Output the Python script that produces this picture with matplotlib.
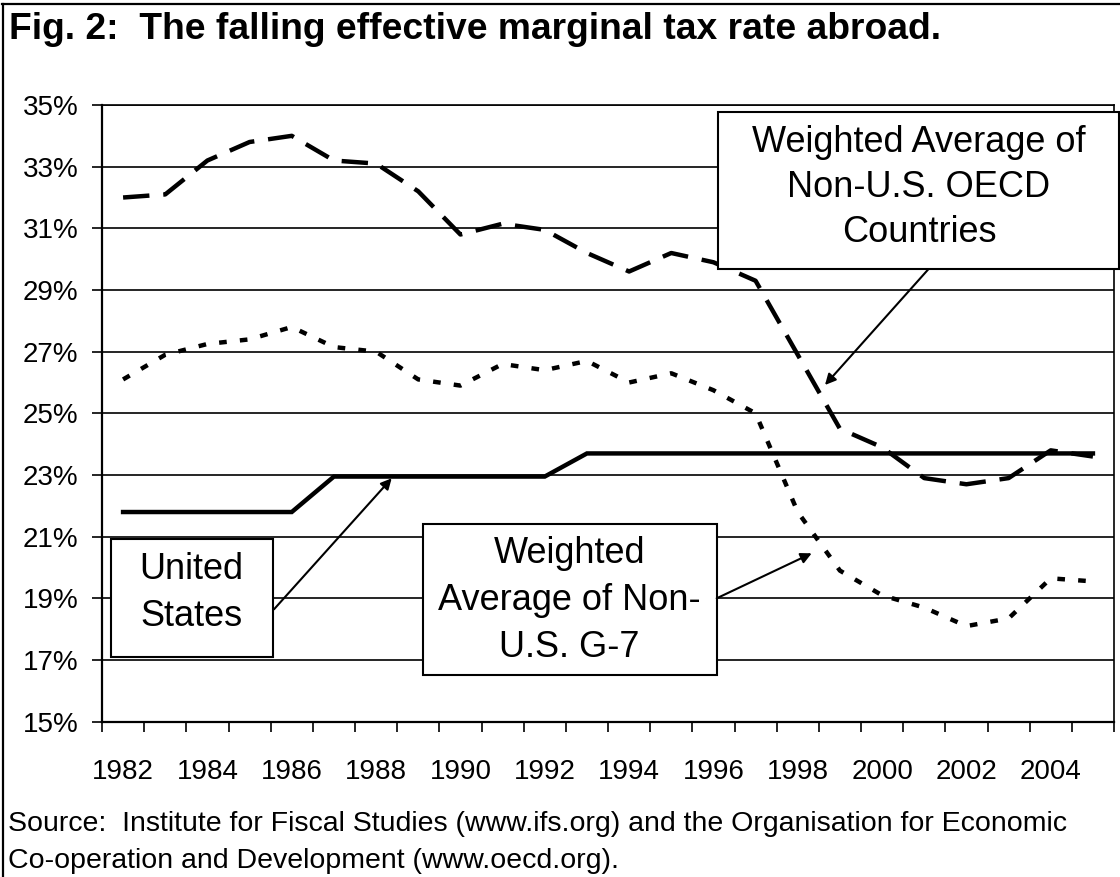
import matplotlib
matplotlib.use("Agg")
import matplotlib.pyplot as plt
from matplotlib.lines import Line2D
from matplotlib.patches import Rectangle, FancyArrowPatch

plt.rcParams['font.family'] = ['Liberation Sans', 'DejaVu Sans']
plt.rcParams['lines.scale_dashes'] = False

# ---- data ----
years = [1982, 1983, 1984, 1985, 1986, 1987, 1988, 1989, 1990, 1991, 1992, 1993,
         1994, 1995, 1996, 1997, 1998, 1999, 2000, 2001, 2002, 2003, 2004, 2005]
oecd = [32.0, 32.1, 33.2, 33.8, 34.0, 33.2, 33.1, 32.2, 30.8, 31.15, 30.95, 30.2,
        29.6, 30.2, 29.9, 29.3, 26.9, 24.5, 23.9, 22.9, 22.7, 22.9, 23.8, 23.6]
g7 = [26.1, 26.9, 27.25, 27.4, 27.8, 27.15, 27.0, 26.1, 25.9, 26.6, 26.4, 26.7,
      26.0, 26.3, 25.75, 25.0, 21.8, 19.9, 19.1, 18.7, 18.1, 18.35, 19.65, 19.55]
us = [21.8, 21.8, 21.8, 21.8, 21.8, 22.95, 22.95, 22.95, 22.95, 22.95, 22.95, 23.7,
      23.7, 23.7, 23.7, 23.7, 23.7, 23.7, 23.7, 23.7, 23.7, 23.7, 23.7, 23.7]
xtick_labels = ['1982', '1984', '1986', '1988', '1990', '1992', '1994', '1996',
                '1998', '2000', '2002', '2004']
yticks = [15, 17, 19, 21, 23, 25, 27, 29, 31, 33, 35]

title = "Fig. 2:  The falling effective marginal tax rate abroad."
source_lines = ["Source:  Institute for Fiscal Studies (www.ifs.org) and the Organisation for Economic",
                "Co-operation and Development (www.oecd.org)."]
label_oecd = ["Weighted Average of", "Non-U.S. OECD", "Countries"]
label_us = ["United", "States"]
label_g7 = ["Weighted", "Average of Non-", "U.S. G-7"]

# ---- figure ----
W, H = 1120, 877
fig = plt.figure(figsize=(W / 100, H / 100), dpi=100)
fig.patch.set_facecolor('white')

def fx(x):
    return x / W

def fy(y):
    return 1 - y / H

ax_l, ax_r, ax_t, ax_b = 102, 1114, 105, 721.7
ax = fig.add_axes([fx(ax_l), fy(ax_b), fx(ax_r) - fx(ax_l), fy(ax_t) - fy(ax_b)])

ax.set_xlim(years[0] - 0.5, years[-1] + 0.5)
ax.set_ylim(15, 35)

for v in yticks:
    ax.axhline(v, color='black', lw=1.2, zorder=1)

ax.plot(years, oecd, color='black', lw=3.2, dashes=(19, 10), zorder=3)
ax.plot(years, g7, color='black', lw=3.2, dashes=(5.5, 9.5), zorder=3)
ax.plot(years, us, color='black', lw=3.2, solid_joinstyle='miter', zorder=3)

# ticks
ax.set_yticks(yticks)
ax.set_yticklabels([f"{v}%" for v in yticks])
boundaries = [y - 0.5 for y in years] + [years[-1] + 0.5]
ax.set_xticks(boundaries)
ax.set_xticklabels([''] * len(boundaries))
ax.set_xticks([int(t) for t in xtick_labels], minor=True)
ax.set_xticklabels(xtick_labels, minor=True)
ax.tick_params(axis='x', which='major', direction='out', length=7, width=1.2, color='black')
ax.tick_params(axis='x', which='minor', length=0, pad=27, labelsize=20)
ax.tick_params(axis='y', direction='out', length=7, width=1.2, color='black', pad=10, labelsize=20)

for s in ['left', 'bottom']:
    ax.spines[s].set_linewidth(1.6)
for s in ['top', 'right']:
    ax.spines[s].set_linewidth(1.2)

# outer frame
fig.add_artist(Line2D([fx(3), fx(3)], [fy(4), fy(H + 5)], color='black', lw=1.6))
fig.add_artist(Line2D([fx(2), fx(W + 5)], [fy(4), fy(4)], color='black', lw=1.6))

# title & source
fig.text(fx(9), fy(39), title, fontsize=26.8, fontweight='bold', va='baseline', ha='left')
fig.text(fx(8), fy(831), source_lines[0], fontsize=20.5, va='baseline', ha='left')
fig.text(fx(8), fy(868), source_lines[1], fontsize=20.5, va='baseline', ha='left')

# annotation boxes
def box(x0, y0, x1, y1, lines, baselines, cx, fs):
    fig.add_artist(Rectangle((fx(x0), fy(y1)), fx(x1) - fx(x0), fy(y0) - fy(y1),
                             facecolor='white', edgecolor='black', lw=1.5,
                             transform=fig.transFigure, zorder=5))
    for t, b in zip(lines, baselines):
        fig.text(fx(cx), fy(b), t, fontsize=fs, ha='center', va='baseline', zorder=6)

def arrow(x0, y0, x1, y1):
    fig.add_artist(FancyArrowPatch(
        (fx(x0), fy(y0)), (fx(x1), fy(y1)), transform=fig.transFigure,
        arrowstyle='-|>', mutation_scale=16, lw=1.5, color='black',
        shrinkA=0, shrinkB=0, zorder=5))

box(718, 111.7, 1119, 269.3, label_oecd, [151.7, 197.3, 241.7], 919, 26)
arrow(928.3, 269.3, 825, 385)

box(110.7, 539.3, 272.7, 656.7, label_us, [579, 626], 191.7, 26)
arrow(274, 609.3, 391.7, 478.3)

box(422.7, 524, 716.7, 674.7, label_g7, [563.3, 610, 656.7], 569.7, 26)
arrow(716.7, 598.3, 811.7, 553.3)

fig.savefig("out.png", dpi=100, facecolor='white')
